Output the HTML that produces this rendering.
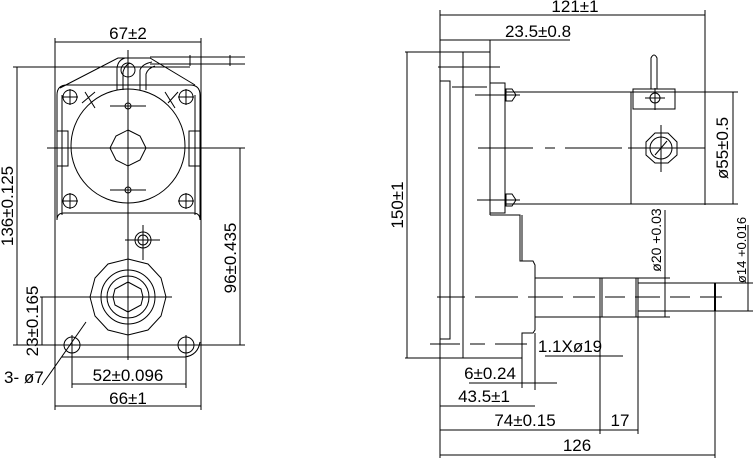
<!DOCTYPE html>
<html><head><style>html,body{margin:0;padding:0;background:#fff}svg{display:block}text{font-family:"Liberation Sans Narrow","Liberation Sans",sans-serif;font-size:17px;fill:#000}</style></head><body>
<svg width="753" height="459" viewBox="0 0 753 459" xmlns="http://www.w3.org/2000/svg">
<g stroke="#000" stroke-width="1" fill="none">
<!-- LEFT VIEW -->
<line x1="55" y1="38" x2="55" y2="410"/><line x1="201" y1="38" x2="201" y2="410"/>
<line x1="55" y1="42" x2="201" y2="42"/>
<line x1="13" y1="67" x2="190" y2="67"/>
<path d="M150 57 H245 M150 64 H245 M190 55 V66 M230 55 V66"/>
<path d="M60 88 L118 58 L150 58 L195 85"/>
<path d="M117 90 V68 Q118 60 125 58 M123 90 V72 Q125 65 130 63 M140 90 V70 Q142 64 152 62 M146 90 V74 Q148 68 155 66"/>
<circle cx="128" cy="70" r="7"/>
<path d="M57 220 V95 Q57 85 67 85 H190 Q200 85 200 95 V220"/>
<path d="M62 215 V95 M195 215 V95"/>
<rect x="57" y="131" width="11" height="35"/><rect x="189" y="131" width="11" height="35"/>
<circle cx="128" cy="146" r="57"/>
<polygon points="128,130 140,136 146,148 140,160 128,166 116,160 110,148 116,136"/>
<line x1="47" y1="148" x2="245" y2="148"/>
<line x1="128" y1="50" x2="128" y2="360"/>
<line x1="110" y1="106" x2="146" y2="106"/><circle cx="128" cy="106" r="3"/>
<line x1="110" y1="190" x2="146" y2="190"/><circle cx="128" cy="190" r="3"/>
<g id="h"><circle cx="70" cy="97" r="7"/><line x1="62" y1="97" x2="78" y2="97"/><line x1="70" y1="89" x2="70" y2="105"/></g>
<use href="#h" x="116"/><use href="#h" y="104"/><use href="#h" x="116" y="104"/>
<path d="M82 103 L95 92 M85 92 L95 108 M168 103 L178 92 M165 92 L175 108"/>
<path d="M57 220 Q57 213 64 213 H193 Q200 213 200 220"/>
<path d="M62 357 H185 Q198 355 200 342"/>
<circle cx="143" cy="240" r="8"/><circle cx="143" cy="240" r="5"/>
<line x1="125" y1="240" x2="160" y2="240"/><line x1="143" y1="225" x2="143" y2="260"/>
<polygon points="128,259 148,264 161,278 166,297 161,316 148,330 128,335 108,330 95,316 90,297 95,278 108,264"/>
<circle cx="128" cy="297" r="27"/><circle cx="128" cy="297" r="21"/>
<polygon points="128,282 141,289 143,297 141,305 128,312 115,305 113,297 115,289"/>
<line x1="40" y1="297" x2="172" y2="297"/>
<circle cx="72" cy="345" r="8"/><circle cx="186" cy="345" r="8"/>
<line x1="13" y1="345" x2="245" y2="345"/>
<line x1="72" y1="335" x2="72" y2="388"/><line x1="186" y1="335" x2="186" y2="388"/>
<line x1="17" y1="67" x2="17" y2="345"/>
<line x1="240" y1="148" x2="240" y2="345"/>
<line x1="42" y1="297" x2="42" y2="345"/>
<path d="M42 385 L86 322"/>
<line x1="72" y1="384" x2="186" y2="384"/>
<line x1="55" y1="406" x2="201" y2="406"/>
<!-- RIGHT VIEW -->
<line x1="440" y1="10" x2="440" y2="458"/><line x1="705" y1="10" x2="705" y2="205"/>
<line x1="440" y1="15" x2="705" y2="15"/>
<line x1="440" y1="40" x2="570" y2="40"/>
<line x1="405" y1="52" x2="490" y2="52"/>
<path d="M440 52 V81 H450 V339 H440"/>
<line x1="463" y1="52" x2="463" y2="358"/>
<line x1="490" y1="40" x2="490" y2="215"/>
<rect x="490" y="83" width="15" height="130"/>
<path d="M490 215 H520 V261 H533 L535 265 V330 L533 333 H522 V358 M522 215 V261 M535 333 V390"/>
<line x1="405" y1="358" x2="522" y2="358"/>
<line x1="438" y1="67" x2="500" y2="67"/><line x1="452" y1="87" x2="487" y2="87"/>
<line x1="505" y1="92" x2="738" y2="92"/><line x1="505" y1="204" x2="738" y2="204"/>
<line x1="631" y1="92" x2="631" y2="204"/>
<rect x="633" y="89" width="42" height="20"/>
<path d="M651 89 V58 Q654 52 657 58 V89"/>
<circle cx="655" cy="98" r="5"/><line x1="645" y1="98" x2="665" y2="98"/><line x1="655" y1="88" x2="655" y2="110"/>
<polygon points="655,133 668,133 677,142 677,155 668,163 655,163 646,155 646,142"/>
<circle cx="661" cy="148" r="11"/>
<line x1="655" y1="155" x2="667" y2="141"/>
<line x1="661" y1="125" x2="661" y2="172"/>
<path d="M478 148 H533 M545 148 H555 M565 148 H622 M628 148 H705"/>
<path d="M506 89 H512 L516 95 L512 101 H506 Z M506 194 H512 L516 200 L512 206 H506 Z"/>
<line x1="475" y1="95" x2="520" y2="95"/><line x1="477" y1="200" x2="520" y2="200"/>
<line x1="733" y1="92" x2="733" y2="204"/>
<path d="M535 278 H638 M535 317 H638 M600 278 V317 M602 278 V317 M636 278 V317 M638 278 V317"/>
<path d="M638 283 H715 M638 311 H715 M638 278 H670 M638 317 H670 M715 283 H753 M715 311 H753"/>
<line x1="715" y1="283" x2="715" y2="311" stroke-width="2"/>
<line x1="665" y1="210" x2="665" y2="317"/>
<line x1="748" y1="225" x2="748" y2="311"/>
<path d="M437 297 H465 M475 297 H518 M528 297 H563 M573 297 H595 M605 297 H625 M635 297 H660 M670 297 H690 M700 297 H722"/>
<path d="M430 344 H460 M470 344 H485 M495 344 H527"/>
<line x1="407" y1="52" x2="407" y2="358"/>
<line x1="545" y1="356" x2="623" y2="356"/>
<line x1="469" y1="383" x2="557" y2="383"/>
<line x1="522" y1="358" x2="522" y2="388"/>
<line x1="440" y1="406" x2="535" y2="406"/>
<line x1="600" y1="317" x2="600" y2="434"/><line x1="638" y1="317" x2="638" y2="434"/>
<line x1="715" y1="311" x2="715" y2="458"/>
<line x1="440" y1="430" x2="638" y2="430"/>
<line x1="440" y1="455" x2="715" y2="455"/>
</g>
<g>
<text x="128" y="39" text-anchor="middle">67±2</text>
<text transform="translate(13,206) rotate(-90)" text-anchor="middle">136±0.125</text>
<text transform="translate(236,258) rotate(-90)" text-anchor="middle">96±0.435</text>
<text transform="translate(38,321) rotate(-90)" text-anchor="middle">23±0.165</text>
<text x="4" y="383">3- ø7</text>
<text x="128" y="381" text-anchor="middle">52±0.096</text>
<text x="128" y="404" text-anchor="middle">66±1</text>
<text x="575" y="12" text-anchor="middle">121±1</text>
<text x="538" y="37" text-anchor="middle">23.5±0.8</text>
<text transform="translate(403,205) rotate(-90)" text-anchor="middle">150±1</text>
<text transform="translate(728,148) rotate(-90)" text-anchor="middle">ø55±0.5</text>
<text transform="translate(661,240) rotate(-90)" text-anchor="middle" style="font-size:14px">ø20 +0.03</text>
<text transform="translate(746,250) rotate(-90)" text-anchor="middle" style="font-size:13px">ø14 +0.016</text>
<text x="570" y="352" text-anchor="middle">1.1Xø19</text>
<text x="490" y="379" text-anchor="middle">6±0.24</text>
<text x="484" y="402" text-anchor="middle">43.5±1</text>
<text x="525" y="426" text-anchor="middle">74±0.15</text>
<text x="620" y="426" text-anchor="middle">17</text>
<text x="577" y="451" text-anchor="middle">126</text>
</g>
</svg>
</body></html>
